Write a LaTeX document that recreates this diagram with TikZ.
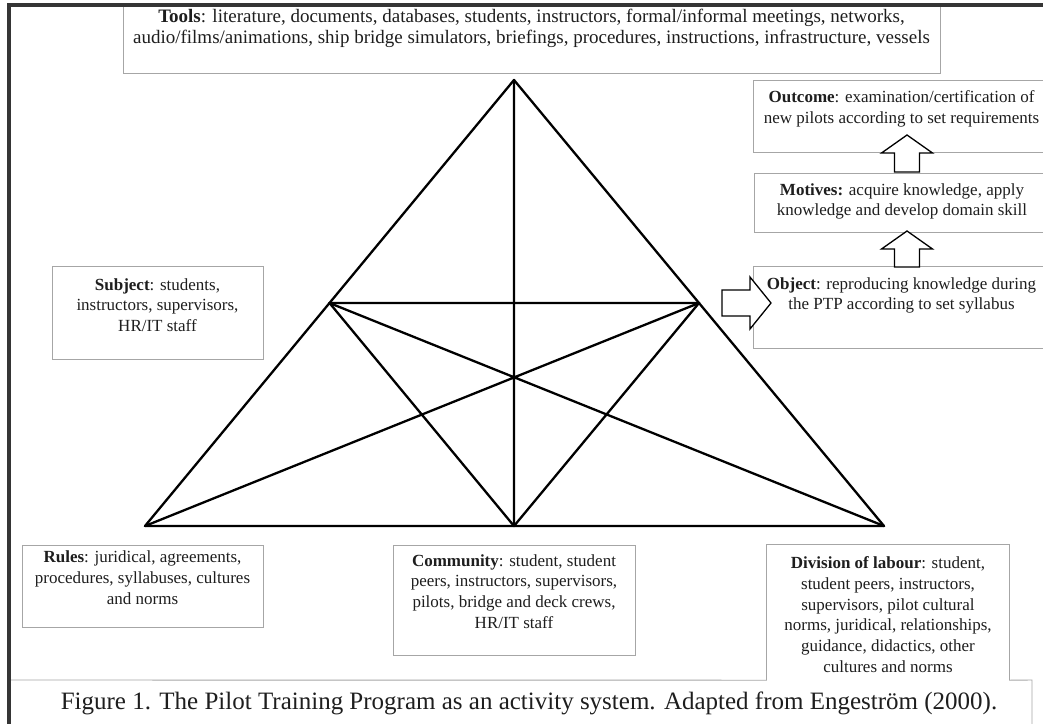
\documentclass[tikz,border=0pt]{standalone}
\usepackage{fontspec}
\setmainfont{Liberation Serif}
\definecolor{boxgray}{HTML}{A6A6A6}
\definecolor{ink}{HTML}{1E1E1E}
\tikzset{
  box/.style={draw=boxgray,line width=0.9pt,fill=white,inner sep=0pt},
  txt/.style={anchor=north,align=center,inner sep=0pt,text=ink,font=\fontsize{17}{20.8}\selectfont},
  edge/.style={line width=2.3pt,line cap=round,line join=round},
  fatarrow/.style={draw=black,line width=1.3pt,fill=white,line join=miter}
}
\begin{document}
\begin{tikzpicture}[x=1pt,y=-1pt]
\useasboundingbox (0,0) rectangle (1043,723);
\fill[white] (0,0) rectangle (1043,723);

\node[box,minimum width=817pt,minimum height=68pt] (tools) at (531.5,39) {};
\node[txt,font=\fontsize{19}{21}\selectfont] (toolstxt) at ([yshift=-4.5pt]tools.north) {\textbf{Tools}: literature, documents, databases, students, instructors, formal/informal meetings, networks,\\audio/films/animations, ship bridge simulators, briefings, procedures, instructions, infrastructure, vessels};

\node[box,minimum width=297pt,minimum height=72pt] (outcome) at (901.5,116) {};
\node[txt] (outcometxt) at ([yshift=-10.5pt]outcome.north) {\textbf{Outcome}: examination/certification of\\new pilots according to set requirements};

\node[box,minimum width=296pt,minimum height=59pt] (motives) at (902,202.5) {};
\node[txt] (motivestxt) at ([yshift=-10.5pt]motives.north) {\textbf{Motives:} acquire knowledge, apply\\knowledge and develop domain skill};

\node[box,minimum width=297pt,minimum height=82pt] (object) at (901.5,307) {};
\node[txt] (objecttxt) at ([yshift=-11.5pt]object.north) {\textbf{Object}: reproducing knowledge during\\the PTP according to set syllabus};

\node[box,minimum width=211pt,minimum height=93pt] (subject) at (157.5,312.5) {};
\node[txt] (subjecttxt) at ([yshift=-12.5pt]subject.north) {\textbf{Subject}: students,\\instructors, supervisors,\\HR/IT staff};

\node[box,minimum width=241pt,minimum height=82pt] (rules) at (142.5,586) {};
\node[txt] (rulestxt) at ([yshift=-6pt]rules.north) {\textbf{Rules}: juridical, agreements,\\procedures, syllabuses, cultures\\and norms};

\node[box,minimum width=242pt,minimum height=110pt] (community) at (514,600) {};
\node[txt] (communitytxt) at ([yshift=-9.5pt]community.north) {\textbf{Community}: student, student\\peers, instructors, supervisors,\\pilots, bridge and deck crews,\\HR/IT staff};

\node[fill=white,inner sep=0pt,minimum width=242pt,minimum height=135pt] (division) at (888,612.5) {};
\draw[boxgray,line width=0.9pt] (division.south west) -- (division.north west) -- (division.north east) -- (division.south east);
\node[txt] (divisiontxt) at ([yshift=-11.5pt]division.north) {\textbf{Division of labour}: student,\\student peers, instructors,\\supervisors, pilot cultural\\norms, juridical, relationships,\\guidance, didactics, other\\cultures and norms};

\coordinate (capleft) at (8,680);
\coordinate (capright) at (1032,680);
\coordinate (capfoot) at (1032,730);
\draw[boxgray,line width=0.9pt] (capleft) -- (division.south west) (division.south east) -- (capright) -- (capfoot);
\node[text=ink,font=\fontsize{25}{29}\selectfont,inner sep=0pt] (caption) at (529,703) {Figure 1. The Pilot Training Program as an activity system. Adapted from Engestr\"om (2000).};

\coordinate (top) at (514,80);
\coordinate (bl) at (145,526);
\coordinate (br) at (884,526);
\coordinate (bm) at (514,526);
\coordinate (lm) at (329.5,303);
\coordinate (rm) at (699,303);
\draw[edge] (top) -- (bl) -- (br) -- cycle;
\draw[edge] (lm) -- (rm) -- (bm) -- cycle;
\draw[edge] (top) -- (bm) (bl) -- (rm) (br) -- (lm);

\draw[fatarrow] (894.5,172) -- (894.5,153) -- (881.5,153) -- (907,135) -- (932.5,153) -- (919.5,153) -- (919.5,172) -- cycle;
\draw[fatarrow] (894.5,267) -- (894.5,249) -- (881.5,249) -- (907,231) -- (932.5,249) -- (919.5,249) -- (919.5,267) -- cycle;
\draw[fatarrow] (722,290) -- (750,290) -- (750,277) -- (771,303) -- (750,329) -- (750,316) -- (722,316) -- cycle;

\draw[line width=4pt,ink!90] (8.7,730) -- (8.7,5.3) -- (1050,5.3);
\end{tikzpicture}
\end{document}
